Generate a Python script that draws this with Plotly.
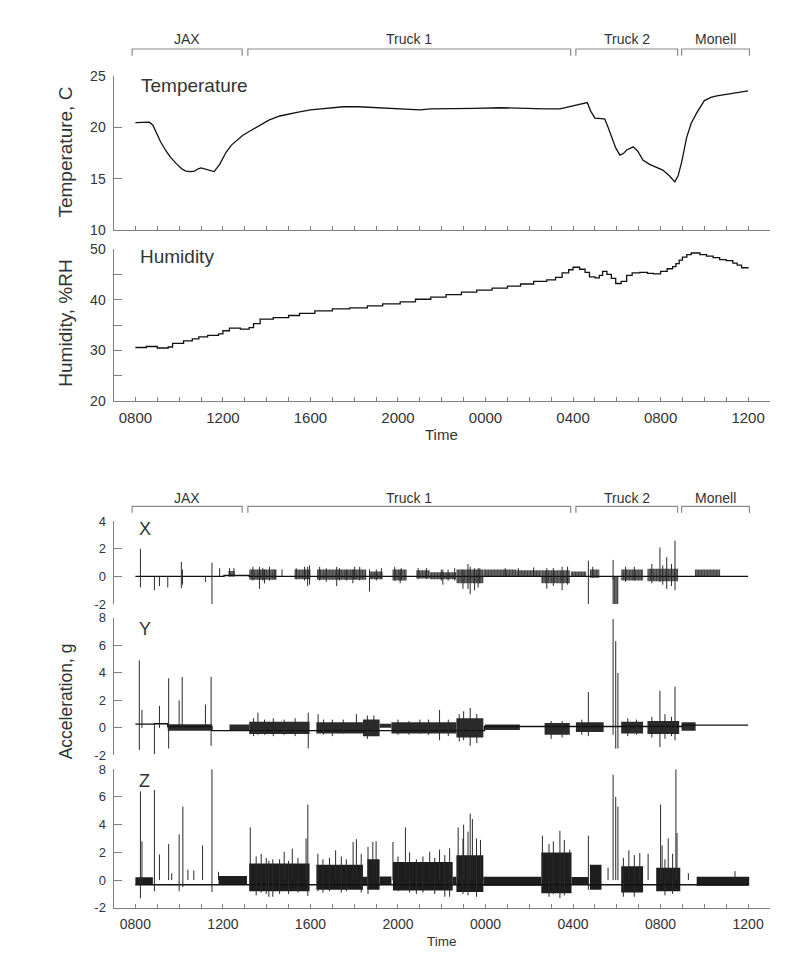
import plotly.graph_objects as go

W, H = 800, 966

# ---------------- data (time in hours from 00:00 of day 1; 24 = midnight, 36 = 12:00 day 2)
temp_t = [8.0, 8.3, 8.64, 8.8, 8.94, 9.15, 9.4, 9.6, 9.86, 10.1, 10.3, 10.5, 10.7, 10.85, 11.0,
          11.2, 11.4, 11.6, 11.85, 12.15, 12.4, 12.6, 12.9, 13.2, 13.6, 14.1, 14.6, 15.0, 15.5,
          16.0, 16.9, 17.5, 18.2, 19.0, 20.0, 21.0, 21.5, 22.4, 23.5, 24.65, 25.3, 26.0, 26.7,
          27.4, 28.0, 28.4, 28.65, 28.8, 29.0, 29.3, 29.45, 29.6, 29.76, 29.95, 30.14, 30.3,
          30.45, 30.75, 30.95, 31.2, 31.5, 31.8, 32.1, 32.4, 32.65, 32.8, 32.96, 33.19, 33.4,
          33.65, 34.0, 34.3, 34.57, 35.0, 35.3, 35.7, 36.0]
temp_v = [20.45, 20.5, 20.5, 20.2, 19.5, 18.6, 17.7, 17.1, 16.5, 16.0, 15.75, 15.7, 15.75, 15.95,
          16.05, 15.95, 15.85, 15.7, 16.4, 17.6, 18.3, 18.7, 19.2, 19.6, 20.1, 20.7, 21.1, 21.3,
          21.5, 21.7, 21.9, 22.0, 22.0, 21.9, 21.8, 21.7, 21.8, 21.8, 21.85, 21.9, 21.85, 21.8,
          21.8, 21.8, 22.1, 22.25, 22.4, 21.6, 20.9, 20.85, 20.8, 20.0, 19.0, 18.0, 17.3, 17.45,
          17.8, 18.1, 17.7, 16.8, 16.4, 16.15, 15.85, 15.3, 14.7, 15.3, 16.6, 19.0, 20.4, 21.4,
          22.6, 22.9, 23.05, 23.2, 23.3, 23.45, 23.55]

hum_t = [8.0, 8.5, 9.0, 9.5, 9.7, 10.2, 10.6, 10.9, 11.3, 11.8, 12.0, 12.3, 12.8, 13.2, 13.4,
         13.7, 14.3, 15.0, 15.5, 16.2, 17.0, 17.8, 18.6, 19.3, 20.1, 20.8, 21.5, 22.2, 22.9,
         23.6, 24.3, 25.0, 25.6, 26.2, 26.8, 27.2, 27.5, 27.8, 28.0, 28.3, 28.55, 28.75, 29.0,
         29.2, 29.35, 29.55, 29.75, 29.95, 30.2, 30.45, 30.7, 31.05, 31.4, 31.67, 32.0, 32.3,
         32.55, 32.7, 32.85, 33.0, 33.2, 33.4, 33.8, 34.1, 34.4, 34.7, 35.0, 35.3, 35.5, 35.7, 36.0]
hum_v = [30.6, 30.8, 30.5, 30.7, 31.4, 31.9, 32.3, 32.7, 33.0, 33.3, 33.9, 34.4, 34.2, 34.5, 35.3,
         36.2, 36.5, 36.9, 37.3, 37.8, 38.2, 38.4, 38.8, 39.2, 39.6, 40.1, 40.5, 41.0, 41.5,
         41.9, 42.3, 42.7, 43.1, 43.6, 43.9, 44.4, 45.3, 45.9, 46.4, 46.0, 45.4, 44.5, 44.3,
         44.8, 45.6, 45.0, 44.2, 43.2, 43.6, 44.8, 45.3, 45.4, 45.2, 45.1, 45.6, 46.1,
         46.5, 47.1, 47.8, 48.4, 48.9, 49.2, 48.9, 48.6, 48.3, 47.9, 47.7, 47.2, 46.8, 46.3, 46.4]

# Acceleration X: baseline, dense bursts (t0, t1, low, high), single spikes (t, low, high)
x_base_t = [8.0, 12.05, 13.2, 36.0]
x_base_v = [0.0, 0.07, 0.0, 0.0]
x_burst_t0 = [12.25, 13.2, 15.27, 16.3, 18.7, 19.75, 20.84, 21.45, 22.67, 23.9, 25.4, 26.55, 27.9, 28.77, 29.8, 30.2, 31.4, 33.57]
x_burst_t1 = [12.55, 14.45, 16.0, 18.55, 19.3, 20.4, 21.45, 22.67, 23.9, 25.4, 26.55, 27.85, 28.6, 29.2, 30.07, 31.2, 32.8, 34.72]
x_burst_lo = [0.0, -0.25, -0.2, -0.25, -0.2, -0.3, -0.15, -0.2, -0.5, -0.05, -0.05, -0.5, -0.05, -0.1, -2.0, -0.3, -0.35, 0.0]
x_burst_hi = [0.4, 0.5, 0.5, 0.5, 0.35, 0.5, 0.45, 0.3, 0.5, 0.5, 0.45, 0.45, 0.35, 0.5, 0.0, 0.5, 0.55, 0.5]
x_spike_t = [8.23, 8.87, 9.1, 9.48, 10.1, 10.15, 11.2, 11.5, 11.85, 12.3, 12.5, 13.67, 14.7, 15.87,
             17.2, 18.7, 22.05, 23.2, 23.3, 28.7, 29.83, 31.97, 32.28, 32.66,
             13.37, 13.82, 13.9, 14.13, 14.36, 15.35, 15.73, 15.96, 16.42, 16.72, 17.33, 17.64, 17.94,
             18.02, 18.25, 19.01, 19.24, 19.85, 20.1, 20.15, 20.92, 21.3, 21.98, 22.29, 22.59, 22.97,
             23.5, 23.66, 23.74, 24.9, 25.5, 26.2, 26.8, 27.1, 27.5, 27.75, 28.9, 30.4, 30.8, 31.6,
             32.1, 32.5]
x_spike_lo = [-0.8, -1.0, -0.7, -0.8, -0.85, -0.6, -0.4, -2.0, 0.0, 0.0, 0.0, -0.9, 0.0, -0.7,
              -0.7, -1.1, -0.6, -0.9, -1.3, -2.0, -0.2, -0.4, -0.9, -1.0,
              -0.3, -0.3, -0.5, -0.3, -0.2, -0.2, -0.3, -0.6, -0.3, -0.4, -0.3, -0.3, -0.5,
              -0.2, -0.3, -0.3, -0.2, -0.3, -0.5, -0.3, -0.2, -0.2, -0.3, -0.3, -0.3, -0.9,
              -1.0, -0.8, -0.5, 0.0, 0.0, 0.0, -0.9, -0.7, -1.0, -0.6, -0.1, -0.4, -0.3, -0.5,
              -0.6, -0.7]
x_spike_hi = [2.0, 0.0, 0.0, 0.0, 1.05, 0.5, 0.0, 1.0, 0.6, 0.6, 0.6, 0.7, 0.5, 0.7,
              0.7, 0.5, 0.5, 0.9, 0.7, 1.15, 1.2, 2.1, 1.4, 2.6,
              0.7, 0.6, 0.5, 0.7, 0.5, 0.6, 0.7, 0.8, 0.7, 0.6, 0.6, 0.5, 0.5,
              0.7, 0.7, 0.5, 0.6, 0.7, 0.5, 0.6, 0.6, 0.6, 0.5, 0.5, 0.6, 0.5,
              0.6, 0.6, 0.6, 0.6, 0.6, 0.65, 0.6, 0.6, 0.7, 0.7, 0.7, 0.7, 0.7, 0.9,
              0.8, 0.9]

# Acceleration Y
y_base_t = [8.0, 8.87, 9.48, 11.5, 23.95, 33.0, 36.0]
y_base_v = [0.27, 0.3, 0.1, -0.2, 0.1, 0.2, 0.2]
y_burst_t0 = [9.48, 12.3, 13.2, 16.27, 18.4, 19.16, 19.7, 22.67, 23.97, 26.7, 28.13, 30.2, 31.4, 32.96]
y_burst_t1 = [11.5, 13.2, 15.96, 18.4, 19.16, 19.7, 22.67, 23.9, 25.57, 27.85, 29.4, 31.2, 32.85, 33.6]
y_burst_lo = [-0.2, -0.2, -0.45, -0.4, -0.6, 0.0, -0.4, -0.7, -0.15, -0.5, -0.3, -0.4, -0.45, -0.2]
y_burst_hi = [0.27, 0.25, 0.45, 0.4, 0.6, 0.3, 0.4, 0.7, 0.25, 0.35, 0.4, 0.45, 0.5, 0.4]
y_spike_t = [8.18, 8.3, 8.87, 9.1, 9.52, 10.0, 10.14, 11.2, 11.46, 13.6, 15.9, 16.35, 18.1, 21.9,
             23.3, 28.7, 29.83, 29.95, 30.05, 31.97, 32.66,
             13.4, 13.9, 14.3, 14.8, 15.3, 16.6, 17.0, 17.5, 18.6, 18.9, 20.0, 20.5, 21.0, 21.4,
             22.3, 22.8, 23.0, 23.6, 27.0, 27.5, 28.4, 30.5, 30.9, 31.6, 32.2, 32.5]
y_spike_lo = [-1.6, 0.0, -1.9, 0.0, -1.5, 0.0, 0.0, 0.0, -1.3, -0.5, -1.5, 0.0, 0.0, -0.9,
              -1.3, -0.6, -0.5, -1.5, -1.5, -1.4, -0.9,
              -0.6, -0.5, -0.6, -0.5, -0.6, -0.5, -0.6, -0.4, -0.8, -0.6, -0.5, -0.5, -0.4, -0.5,
              -0.6, -1.0, -0.9, -1.1, -0.8, -0.7, -0.5, -0.6, -0.5, -0.7, -0.8, -0.6]
y_spike_hi = [4.9, 1.3, 0.3, 1.6, 3.6, 2.0, 3.7, 1.7, 3.7, 1.1, 1.1, 1.0, 1.0, 1.3,
              1.45, 2.6, 7.9, 6.3, 4.0, 2.7, 3.0,
              0.7, 0.6, 0.7, 0.6, 0.7, 0.6, 0.6, 0.6, 0.9, 0.9, 0.6, 0.5, 0.6, 0.6,
              0.6, 1.0, 1.2, 1.0, 0.5, 0.5, 0.6, 0.7, 0.6, 0.8, 1.0, 0.8]

# Acceleration Z
z_base_t = [8.0, 36.0]
z_base_v = [-0.33, -0.33]
z_burst_t0 = [8.0, 11.8, 13.2, 16.27, 18.4, 18.6, 19.16, 19.77, 22.5, 22.67, 23.9, 26.55, 27.93, 28.77, 30.2, 31.8, 33.65]
z_burst_t1 = [8.8, 13.1, 15.96, 18.4, 18.6, 19.16, 19.7, 22.5, 22.67, 23.9, 26.55, 27.93, 28.7, 29.3, 31.2, 32.9, 36.05]
z_burst_lo = [-0.35, -0.35, -0.8, -0.7, -0.4, -0.7, -0.33, -0.75, -0.35, -0.85, -0.4, -0.95, -0.33, -0.7, -0.9, -0.8, -0.4]
z_burst_hi = [0.2, 0.3, 1.2, 1.1, 0.25, 1.5, 0.26, 1.3, 0.25, 1.8, 0.25, 2.0, 0.23, 1.1, 1.0, 0.9, 0.25]
z_spike_t = [8.23, 8.3, 8.87, 9.1, 9.52, 9.66, 10.0, 10.17, 10.4, 10.67, 11.07, 11.5, 11.8, 13.25,
             14.8, 15.17, 15.8, 15.88, 17.15, 17.95, 18.1, 18.85, 19.0, 19.77, 20.34, 21.45, 21.9,
             22.36, 22.75, 23.0, 23.3, 23.4, 23.77, 26.6, 27.4, 27.85, 28.7, 29.6, 29.83, 29.95,
             30.05, 30.55, 31.05, 31.43, 32.0, 32.07, 32.35, 32.7, 32.75, 33.27, 35.4,
             13.52, 13.75, 13.98, 14.28, 14.59, 15.43, 16.34, 16.57, 16.87, 17.41, 17.64, 18.32,
             18.63, 20.0, 20.53, 20.84, 21.14, 21.68, 22.14, 22.97, 23.2, 23.59, 14.1, 15.0,
             26.9, 27.1, 27.6, 30.3, 30.8, 32.2, 32.55]
z_spike_lo = [-1.3, 0.0, -0.8, 0.0, 0.0, 0.0, -0.8, -0.5, 0.0, 0.0, 0.0, -0.85, 0.0, 0.0,
              0.0, 0.0, 0.0, -1.15, 0.0, 0.0, 0.0, 0.0, 0.0, 0.0, 0.0, 0.0, 0.0,
              -1.2, 0.0, 0.0, 0.0, 0.0, 0.0, 0.0, -1.3, 0.0, -0.7, 0.0, 0.0, 0.0,
              0.0, 0.0, 0.0, 0.0, 0.0, 0.0, 0.0, 0.0, 0.0, 0.0, 0.0,
              -1.1, -0.9, -1.0, -1.2, -1.0, -0.9, -0.8, -0.9, -0.8, -0.9, -0.8, -0.9,
              -1.0, -0.8, -0.9, -1.0, -0.9, -1.0, -1.2, -1.0, -1.1, -1.2, -1.2, -1.0,
              -1.2, -1.0, -1.1, -1.2, -1.2, -1.1, -1.0]
z_spike_hi = [6.4, 2.8, 6.5, 1.85, 2.6, 0.5, 3.3, 5.3, 0.75, 0.7, 2.5, 8.0, 0.6, 3.8,
              2.05, 2.27, 3.0, 5.45, 2.15, 2.75, 2.95, 2.75, 2.8, 2.75, 3.8, 2.05, 2.2,
              2.3, 3.8, 4.0, 4.8, 4.4, 2.9, 3.2, 3.55, 2.2, 3.2, 0.9, 7.6, 6.0,
              5.3, 2.15, 1.95, 1.9, 5.45, 2.5, 3.0, 8.0, 3.4, 0.5, 0.65,
              1.7, 1.9, 1.6, 1.5, 1.5, 1.6, 1.9, 1.5, 1.6, 1.7, 1.5, 1.9,
              2.4, 1.7, 2.0, 1.5, 1.7, 1.6, 1.8, 3.0, 3.5, 3.0, 1.4, 1.4,
              2.6, 2.8, 2.9, 1.6, 1.8, 1.5, 1.9]

# Trip segments (brackets)
seg_names = ["JAX", "Truck 1", "Truck 2", "Monell"]
seg_t0 = [7.85, 13.14, 28.13, 32.96]
seg_t1 = [12.88, 27.89, 32.78, 36.06]

tick_hours = list(range(8, 37))
label_hours = [8, 12, 16, 20, 24, 28, 32, 36]
label_text = ["0800", "1200", "1600", "2000", "0000", "0400", "0800", "1200"]

# ---------------- style / layout helpers
FONT = "Liberation Sans, Arial, sans-serif"
AX = "#808080"
TXT = "#333333"
LINE = "#111111"


def pp(py):
    return 1 - py / H


XD = [113.5 / W, 770 / W]
tick_text_all = [label_text[label_hours.index(h)] if h in label_hours else "" for h in tick_hours]

fig = go.Figure()

fig.add_trace(go.Scatter(x=temp_t, y=temp_v, mode="lines", line=dict(color=LINE, width=1.3),
                         xaxis="x", yaxis="y", hoverinfo="skip"))
fig.add_trace(go.Scatter(x=hum_t, y=hum_v, mode="lines", line=dict(color=LINE, width=1.3, shape="hv"),
                         xaxis="x2", yaxis="y2", hoverinfo="skip"))


def add_panel(n, base_t, base_v, b0, b1, blo, bhi, st, slo, shi, fill, pattern):
    xa, ya = "x%d" % n, "y%d" % n
    marker = dict(color=fill, line=dict(width=0))
    if pattern:
        marker["pattern"] = dict(shape="|", size=3, solidity=0.7)
    fig.add_trace(go.Bar(
        x=[(a + b) / 2 for a, b in zip(b0, b1)], y=[h - l for l, h in zip(blo, bhi)], base=blo,
        width=[b - a for a, b in zip(b0, b1)], marker=marker,
        xaxis=xa, yaxis=ya, hoverinfo="skip"))
    fig.add_trace(go.Scatter(x=base_t, y=base_v, mode="lines", line=dict(color=LINE, width=1.4, shape="hv"),
                             xaxis=xa, yaxis=ya, hoverinfo="skip"))
    xs, ys = [], []
    for t, lo, hi in zip(st, slo, shi):
        xs += [t, t, None]
        ys += [lo, hi, None]
    fig.add_trace(go.Scatter(x=xs, y=ys, mode="lines", line=dict(color="#2a2a2a", width=1),
                             xaxis=xa, yaxis=ya, hoverinfo="skip", connectgaps=False))


add_panel(3, x_base_t, x_base_v, x_burst_t0, x_burst_t1, x_burst_lo, x_burst_hi, x_spike_t, x_spike_lo, x_spike_hi, "#000000", True)
add_panel(4, y_base_t, y_base_v, y_burst_t0, y_burst_t1, y_burst_lo, y_burst_hi, y_spike_t, y_spike_lo, y_spike_hi, "#2b2b2b", False)
add_panel(5, z_base_t, z_base_v, z_burst_t0, z_burst_t1, z_burst_lo, z_burst_hi, z_spike_t, z_spike_lo, z_spike_hi, "#1e1e1e", False)


def xaxis(anchor, labels, size=15, visible=True):
    d = dict(domain=XD, range=[7, 37], anchor=anchor, showline=True, linecolor=AX, linewidth=1,
             ticks="inside", ticklen=4, tickcolor=AX, tickvals=tick_hours, ticktext=tick_text_all,
             showticklabels=labels, showgrid=False, zeroline=False, fixedrange=True,
             tickfont=dict(family=FONT, size=size, color=TXT), ticklabelstandoff=3)
    if not visible:
        d["visible"] = False
    return d


def yaxis(anchor, top, bottom, rng, vals, text, size):
    return dict(domain=[pp(bottom), pp(top)], range=rng, anchor=anchor, showline=True, linecolor=AX,
                linewidth=1, ticks="inside", ticklen=8, tickcolor=AX, tickvals=vals, ticktext=text,
                showgrid=False, zeroline=False, fixedrange=True,
                tickfont=dict(family=FONT, size=size, color=TXT), ticklabelstandoff=4)


fig.update_layout(
    width=W, height=H, margin=dict(l=0, r=0, t=0, b=0),
    paper_bgcolor="white", plot_bgcolor="white", showlegend=False, barmode="overlay",
    xaxis=xaxis("y", False),
    xaxis2=xaxis("y2", True, 15),
    xaxis3=xaxis("y3", False, visible=False),
    xaxis4=xaxis("y4", False, visible=False),
    xaxis5=xaxis("y5", True, 14),
    yaxis=yaxis("x", 69, 226, [10, 25], [10, 15, 20, 25], ["10", "15", "20", "25"], 14),
    yaxis2=yaxis("x2", 245, 400, [20, 50], [20, 25, 30, 35, 40, 45, 50], ["20", "", "30", "", "40", "", "50"], 14),
    yaxis3=yaxis("x3", 522, 606, [-2, 4], [-2, 0, 2, 4], ["-2", "0", "2", "4"], 13),
    yaxis4=yaxis("x4", 620, 760, [-2, 8], [-2, 0, 2, 4, 6, 8], ["-2", "0", "2", "4", "6", "8"], 13),
    yaxis5=yaxis("x5", 774, 915, [-2, 8], [-2, 0, 2, 4, 6, 8], ["-2", "0", "2", "4", "6", "8"], 13),
)

ann = []
shapes = []


def txt(x, y, s, size, xref="paper", xanchor="center", angle=0):
    ann.append(dict(x=x, y=y, xref=xref, yref="paper", text=s, showarrow=False, xanchor=xanchor,
                    yanchor="middle", textangle=angle, font=dict(family=FONT, size=size, color=TXT)))


# panel labels
txt(139 / W, pp(79), "Temperature", 19, xanchor="left")
txt(138 / W, pp(253), "Humidity", 19, xanchor="left")
txt(137 / W, pp(530), "X", 18, xanchor="left")
txt(137 / W, pp(631), "Y", 18, xanchor="left")
txt(137 / W, pp(786), "Z", 18, xanchor="left")
# axis titles
txt(66 / W, pp(147), "Temperature, C", 19, angle=-90)
txt(66 / W, pp(321), "Humidity, %RH", 19, angle=-90)
txt(66 / W, pp(705), "Acceleration, g", 17.5, angle=-90)
txt(441.5 / W, pp(434), "Time", 15)
txt(441.5 / W, pp(949), "Time", 13.5)

# brackets
for xref, ytop, ybot, ylab, fs in [("x", 41.7, 48.5, 32, 14), ("x5", 506.7, 513.3, 498, 14)]:
    for name, a, b in zip(seg_names, seg_t0, seg_t1):
        shapes.append(dict(type="path", xref=xref, yref="paper",
                           path="M %f,%f L %f,%f L %f,%f L %f,%f" % (a, pp(ybot), a, pp(ytop), b, pp(ytop), b, pp(ybot)),
                           line=dict(color="#8a8a8a", width=1.2)))
        txt((a + b) / 2, pp(ylab), name, fs, xref=xref)

fig.update_layout(annotations=ann, shapes=shapes)
fig.write_html("out.html", config={"displayModeBar": False},
               post_script="document.body.style.margin='0px';")
